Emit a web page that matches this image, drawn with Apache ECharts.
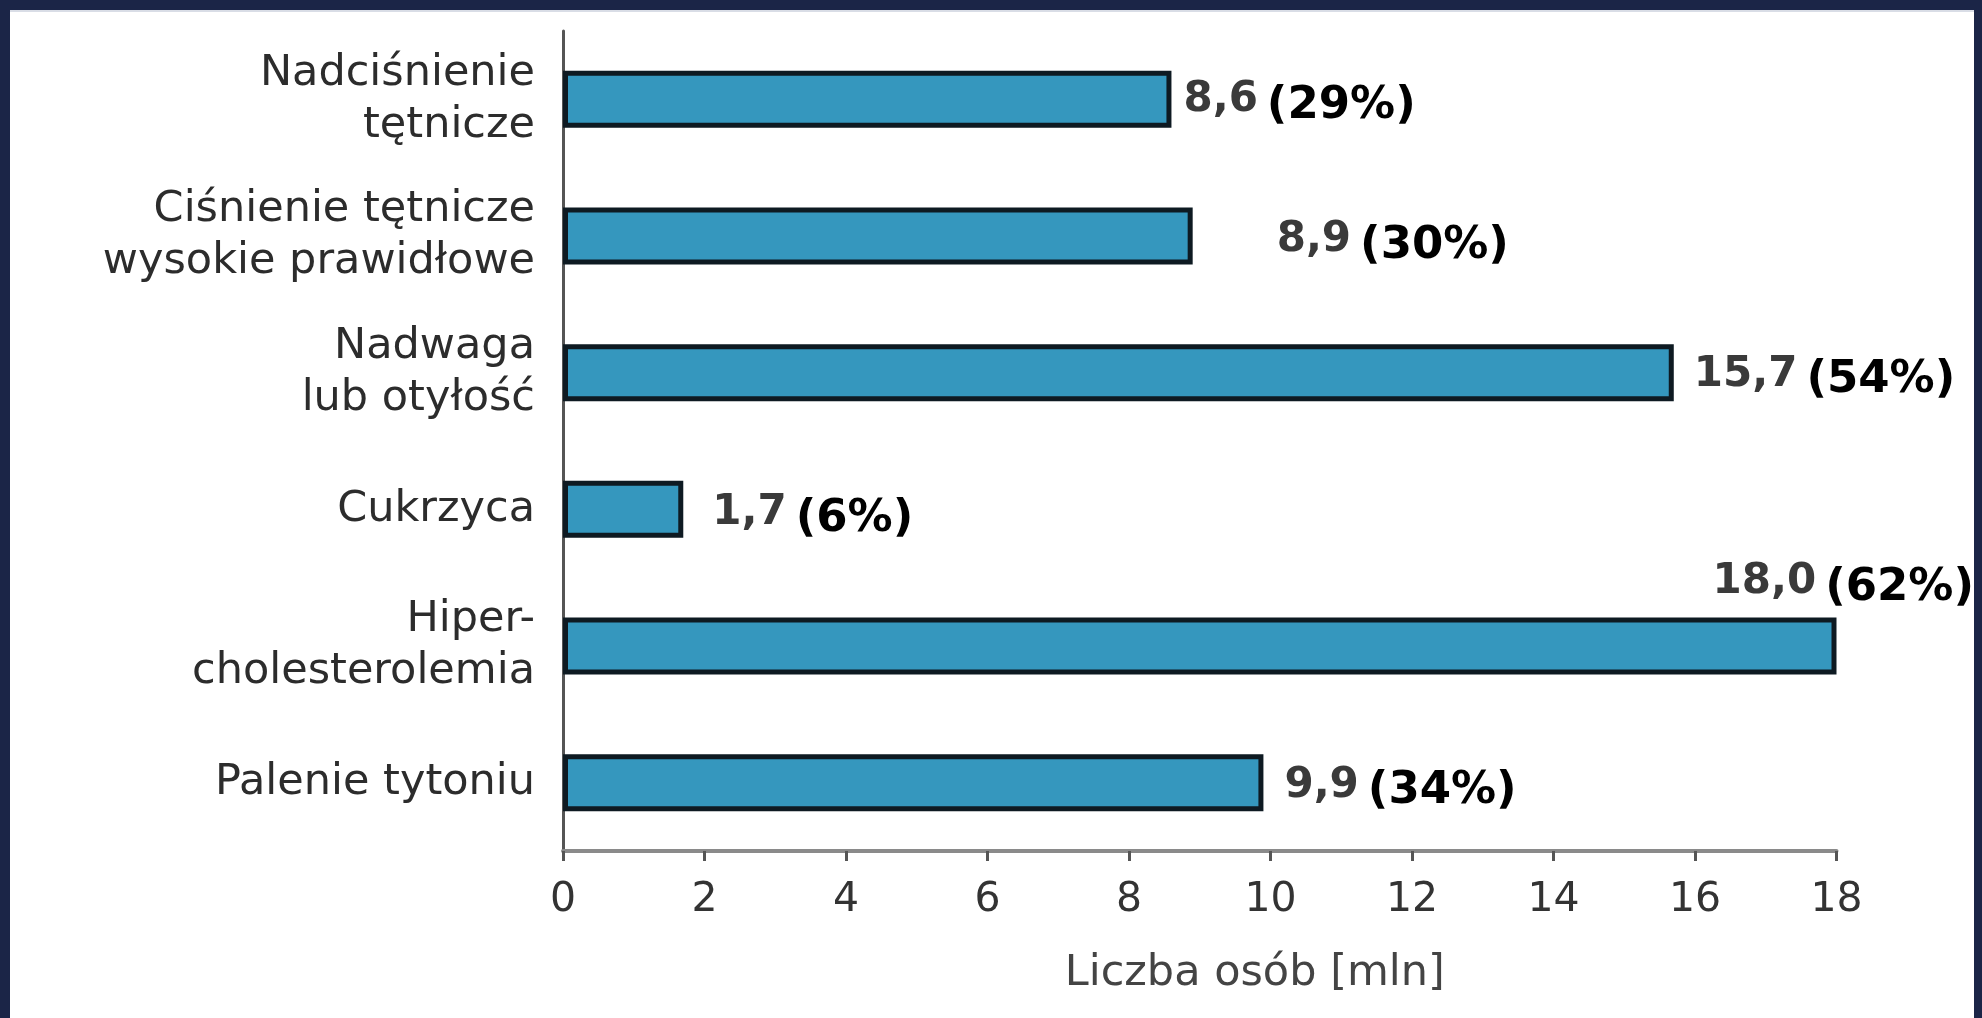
<!DOCTYPE html>
<html lang="pl">
<head>
<meta charset="utf-8">
<title>Liczba osób z czynnikami ryzyka</title>
<script src="https://cdn.jsdelivr.net/npm/echarts@6/dist/echarts.min.js"></script>
<style>
  html, body { margin: 0; padding: 0; width: 1982px; height: 1018px; overflow: hidden; background: #1b2547; }
  #panel { position: absolute; left: 10px; top: 10px; width: 1964px; height: 1008px; background: #ffffff; border-top: 2px solid #d9dde6; box-sizing: border-box; }
  #chart { position: absolute; left: 0; top: 0; width: 1982px; height: 1018px; }
</style>
</head>
<body>
<div id="panel"></div>
<div id="chart"></div>
<script>
// Risk factors (top to bottom) and number of people affected, in millions
const categories = [
  'Nadciśnienie\ntętnicze',
  'Ciśnienie tętnicze\nwysokie prawidłowe',
  'Nadwaga\nlub otyłość',
  'Cukrzyca',
  'Hiper-\ncholesterolemia',
  'Palenie tytoniu'
];
const values = [8.6, 8.9, 15.7, 1.7, 18.0, 9.9];
const shares = [29, 30, 54, 6, 62, 34];   // share of the population, %
const xTicks = { min: 0, max: 18, step: 2 };

// Label placement next to each bar end: [dx, dy] in pixels
const labelOffsets = [[12, 1], [84, 4], [20, 2], [29, 4], [-124, -64], [21, 3]];

const FONT = 'DejaVu Sans';

const fmt = v => v.toFixed(1).replace('.', ',');

const chart = echarts.init(document.getElementById('chart'), null, { renderer: 'canvas' });

chart.setOption({
  backgroundColor: 'transparent',
  animation: false,
  grid: { left: 563, right: 145.5, top: 31, bottom: 167, containLabel: false },
  xAxis: {
    type: 'value',
    min: xTicks.min,
    max: xTicks.max,
    interval: xTicks.step,
    axisLine: { show: true, lineStyle: { color: '#8a8a8a', width: 4 } },
    axisTick: { show: true, length: 10, lineStyle: { color: '#555', width: 3 } },
    axisLabel: { margin: 29, fontFamily: FONT, fontSize: 41, color: '#333' },
    splitLine: { show: false },
    name: 'Liczba osób [mln]',
    nameLocation: 'middle',
    nameGap: 101,
    nameTextStyle: { fontFamily: FONT, fontSize: 43, color: '#444', padding: [0, 0, 0, 110] }
  },
  yAxis: {
    type: 'category',
    data: categories,
    inverse: true,
    axisLine: { show: true, lineStyle: { color: '#555', width: 3 } },
    axisTick: { show: false },
    axisLabel: { margin: 28, fontFamily: FONT, fontSize: 43, color: '#2c2c2c', lineHeight: 52, align: 'right' },
    splitLine: { show: false }
  },
  series: [{
    type: 'bar',
    barWidth: 57,
    data: values.map((v, i) => ({
      value: v,
      label: {
        show: true,
        position: 'right',
        distance: 0,
        offset: labelOffsets[i],
        formatter: '{v|' + fmt(v) + '}{p|(' + shares[i] + '%)}',
        rich: {
          v: { fontFamily: FONT, fontSize: 42, fontWeight: 'bold', color: '#3a3a3a', lineHeight: 46 },
          p: { fontFamily: FONT, fontSize: 45, fontWeight: 'bold', color: '#000', lineHeight: 48, padding: [12, 0, 0, 9] }
        }
      }
    })),
    itemStyle: { color: '#3597be', borderColor: '#0e1a22', borderWidth: 5 }
  }]
});
</script>
</body>
</html>
